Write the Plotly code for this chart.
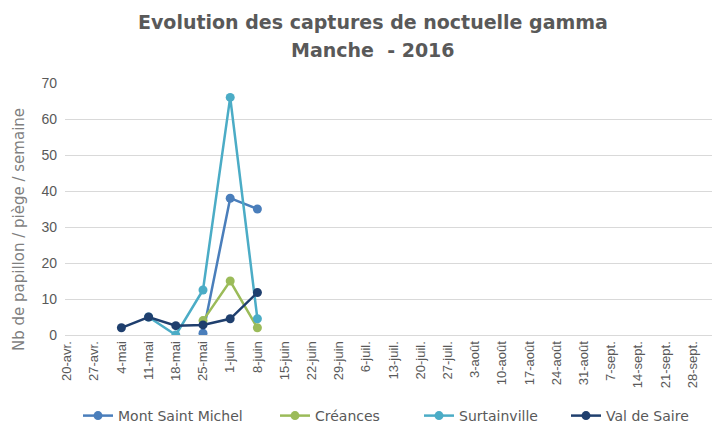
import plotly.graph_objects as go

categories = ["20-avr.", "27-avr.", "4-mai", "11-mai", "18-mai", "25-mai", "1-juin", "8-juin",
              "15-juin", "22-juin", "29-juin", "6-juil.", "13-juil.", "20-juil.", "27-juil.",
              "3-août", "10-août", "17-août", "24-août", "31-août", "7-sept.", "14-sept.",
              "21-sept.", "28-sept.", "5-oct."]

mont_saint_michel = [None, None, None, None, None, 0.5, 38, 35]
creances = [None, None, None, None, None, 4, 15, 2]
surtainville = [None, None, None, 5, 0, 12.5, 66, 4.5]
val_de_saire = [None, None, 2, 5, 2.6, 2.8, 4.5, 11.8]

title_line1 = "Evolution des captures de noctuelle gamma"
title_line2 = "Manche  - 2016"
y_title = "Nb de papillon / piège / semaine"

series = [
    ("Mont Saint Michel", mont_saint_michel, "#4A7EBB"),
    ("Créances", creances, "#9BBB59"),
    ("Surtainville", surtainville, "#4BACC6"),
    ("Val de Saire", val_de_saire, "#1F3F6E"),
]
legend_text_x = [118, 315, 459, 606]  # page px where legend text starts

# the page renders with an 8px body offset; the figure is laid out in page pixels
OFF = 8
W, H = 720 - OFF, 432 - OFF
L, R, T, B = 65 - OFF, 0, 83 - OFF, 97
pw, ph = W - L - R, H - T - B
cat_px = 27.2
x0 = -(67 - 65) / cat_px


def px_x(x):
    return (x - OFF - L) / pw


def px_y(y):
    return (H - B - (y - OFF)) / ph


fig = go.Figure()
legend_names = ["legend", "legend2", "legend3", "legend4"]
for (name, vals, color), lg in zip(series, legend_names):
    fig.add_trace(go.Scatter(
        x=categories[:len(vals)], y=vals, name=name, mode="lines+markers",
        line=dict(color=color, width=2.5),
        marker=dict(color=color, size=9),
        connectgaps=False, legend=lg,
    ))

title_font = dict(family="DejaVu Sans", size=19, color="#595959")
fig.add_annotation(text="<b>" + title_line1 + "</b>", x=px_x(373), y=px_y(22),
                   xref="paper", yref="paper", xanchor="center", yanchor="middle",
                   showarrow=False, font=title_font)
fig.add_annotation(text="<b>" + title_line2 + "</b>", x=px_x(373), y=px_y(50),
                   xref="paper", yref="paper", xanchor="center", yanchor="middle",
                   showarrow=False, font=title_font)
fig.add_annotation(text=y_title, x=px_x(19), y=px_y(230), xref="paper", yref="paper",
                   xanchor="center", yanchor="middle", textangle=-90, showarrow=False,
                   font=dict(family="DejaVu Sans", size=15, color="#7f7f7f"))

legend_font = dict(family="DejaVu Sans", size=14, color="#595959")
layout_legends = {}
for lg, tx in zip(legend_names, legend_text_x):
    layout_legends[lg] = dict(
        orientation="h", x=px_x(tx - 40), xanchor="left", y=px_y(416), yanchor="middle",
        font=legend_font, itemwidth=30, bgcolor="rgba(0,0,0,0)",
    )

fig.update_layout(
    width=W, height=H,
    margin=dict(l=L, r=R, t=T, b=B, autoexpand=False),
    paper_bgcolor="white", plot_bgcolor="white",
    xaxis=dict(
        type="category", categoryorder="array", categoryarray=categories,
        tickmode="array", tickvals=categories, ticktext=categories,
        range=[x0, x0 + pw / cat_px], tickangle=-90, showgrid=False,
        showline=True, linecolor="#d9d9d9", linewidth=1, ticks="",
        tickfont=dict(family="Liberation Sans, Arial", size=13, color="#595959"),
        zeroline=False, automargin=False,
    ),
    yaxis=dict(
        range=[0, 70], dtick=10, showgrid=True, gridcolor="#d9d9d9", gridwidth=1,
        zeroline=False, showline=False, ticks="", ticklabelstandoff=7,
        tickfont=dict(family="Liberation Sans, Arial", size=14, color="#595959"),
        automargin=False,
    ),
    showlegend=True,
    **layout_legends,
)

fig.write_html("out.html")
